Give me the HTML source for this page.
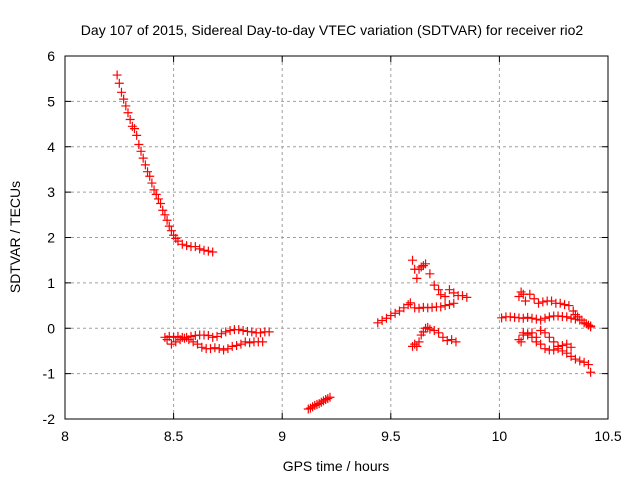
<!DOCTYPE html>
<html><head><meta charset="utf-8"><style>
body{margin:0;background:#fff}
svg text{font-family:"Liberation Sans",sans-serif;font-size:14px;fill:#000}
</style></head><body>
<svg id="c" width="640" height="480"></svg>
<script>
const xTicks=[8,8.5,9,9.5,10,10.5];
const xTickLabels=["8","8.5","9","9.5","10","10.5"];
const yTicks=[-2,-1,0,1,2,3,4,5,6];
const yTickLabels=["-2","-1","0","1","2","3","4","5","6"];
const segA_x=[8.24,8.25,8.26,8.27,8.28,8.29,8.30,8.31,8.32,8.33,8.34,8.35,8.36,8.37,8.38,8.39,8.40,8.41,8.42,8.43,8.44,8.45,8.46,8.47,8.48,8.49,8.50,8.51,8.52,8.54,8.56,8.58,8.60,8.62,8.64,8.66,8.68];
const segA_y=[5.58,5.4,5.2,5.05,4.9,4.75,4.6,4.45,4.4,4.25,4.05,3.9,3.75,3.6,3.45,3.35,3.2,3.05,2.95,2.85,2.75,2.6,2.5,2.38,2.25,2.15,2.05,1.98,1.92,1.85,1.82,1.8,1.8,1.75,1.72,1.7,1.68];
const segB_x=[8.46,8.48,8.50,8.52,8.54,8.56,8.58,8.60,8.62,8.64,8.66,8.68,8.70,8.72,8.74,8.76,8.78,8.80,8.82,8.84,8.86,8.88,8.90,8.92,8.94];
const segB_y=[-0.2,-0.18,-0.2,-0.18,-0.2,-0.2,-0.18,-0.16,-0.15,-0.15,-0.16,-0.2,-0.18,-0.12,-0.08,-0.05,-0.03,-0.03,-0.05,-0.07,-0.08,-0.1,-0.1,-0.08,-0.08];
const segC_x=[8.47,8.49,8.51,8.53,8.55,8.57,8.59,8.61,8.63,8.65,8.67,8.69,8.71,8.73,8.75,8.77,8.79,8.81,8.83,8.85,8.87,8.89,8.91];
const segC_y=[-0.25,-0.35,-0.3,-0.25,-0.22,-0.25,-0.3,-0.35,-0.42,-0.45,-0.45,-0.43,-0.45,-0.48,-0.45,-0.4,-0.38,-0.35,-0.3,-0.32,-0.3,-0.3,-0.3];
const segD_x=[9.12,9.13,9.14,9.15,9.16,9.17,9.18,9.19,9.20,9.21,9.22];
const segD_y=[-1.78,-1.76,-1.73,-1.7,-1.68,-1.66,-1.63,-1.6,-1.57,-1.55,-1.52];
const segE_x=[9.44,9.46,9.48,9.50,9.52,9.54,9.56,9.58,9.59,9.61,9.63,9.65,9.67,9.69,9.71,9.73,9.75,9.77,9.79];
const segE_y=[0.12,0.17,0.22,0.28,0.33,0.38,0.45,0.52,0.56,0.45,0.44,0.46,0.45,0.46,0.47,0.47,0.5,0.52,0.55];
const segF_x=[9.60,9.61,9.62,9.63,9.64,9.65,9.66,9.68,9.70,9.72,9.73,9.75,9.77,9.79,9.81,9.83,9.85];
const segF_y=[1.5,1.3,1.1,1.3,1.35,1.38,1.42,1.2,0.95,0.85,0.74,0.7,0.85,0.78,0.72,0.72,0.68];
const segG_x=[9.60,9.61,9.62,9.63,9.64,9.65,9.66,9.67,9.68,9.70,9.72,9.74,9.76,9.78,9.80];
const segG_y=[-0.4,-0.35,-0.4,-0.3,-0.15,-0.08,0,0.02,-0.02,-0.05,-0.1,-0.2,-0.27,-0.25,-0.3];
const segH_x=[10.01,10.03,10.05,10.07,10.09,10.11,10.13,10.15,10.17,10.19,10.21,10.23,10.25,10.27,10.29,10.31,10.33,10.35,10.37,10.39,10.41,10.42];
const segH_y=[0.23,0.25,0.25,0.24,0.23,0.22,0.24,0.22,0.2,0.18,0.22,0.25,0.27,0.27,0.26,0.25,0.22,0.2,0.18,0.12,0.07,0.03];
const segI_x=[10.09,10.10,10.11,10.12,10.14,10.16,10.18,10.20,10.22,10.24,10.26,10.28,10.30,10.32,10.34,10.35,10.36,10.38,10.40,10.42];
const segI_y=[0.7,0.8,0.75,0.6,0.75,0.65,0.55,0.58,0.6,0.6,0.55,0.55,0.52,0.5,0.38,0.3,0.25,0.18,0.1,0.05];
const segJ_x=[10.09,10.10,10.11,10.13,10.15,10.17,10.19,10.21,10.23,10.25,10.27,10.29,10.31,10.33,10.35,10.37,10.39,10.41,10.42];
const segJ_y=[-0.25,-0.3,-0.15,-0.12,-0.1,-0.2,-0.05,-0.1,-0.2,-0.3,-0.4,-0.5,-0.55,-0.62,-0.68,-0.72,-0.75,-0.8,-0.97];
const segK_x=[10.11,10.13,10.15,10.17,10.19,10.21,10.23,10.25,10.27,10.29,10.31,10.33];
const segK_y=[-0.1,-0.15,-0.2,-0.3,-0.35,-0.45,-0.48,-0.48,-0.45,-0.38,-0.35,-0.42];
const series=[[segA_x,segA_y],[segB_x,segB_y],[segC_x,segC_y],[segD_x,segD_y],[segE_x,segE_y],[segF_x,segF_y],[segG_x,segG_y],[segH_x,segH_y],[segI_x,segI_y],[segJ_x,segJ_y],[segK_x,segK_y]];

const L=65,R=608,T=56,B=419,xmin=8,xmax=10.5,ymin=-2,ymax=6;
const sx=v=>L+(v-xmin)/(xmax-xmin)*(R-L);
const sy=v=>B-(v-ymin)/(ymax-ymin)*(B-T);
const svg=document.getElementById('c');const NS='http://www.w3.org/2000/svg';
function mk(t,a,txt){const e=document.createElementNS(NS,t);for(const k in a)e.setAttribute(k,a[k]);if(txt!==undefined)e.textContent=txt;svg.appendChild(e);return e;}
xTicks.forEach((v,i)=>{const x=sx(v);
 if(i>0&&i<xTicks.length-1){const g=mk('line',{x1:x,x2:x,y1:T,y2:B,stroke:'#a0a0a0','stroke-dasharray':'3,3'});}
 mk('line',{x1:x,x2:x,y1:B,y2:B-6,stroke:'#000'});mk('line',{x1:x,x2:x,y1:T,y2:T+6,stroke:'#000'});
 const t=mk('text',{x:x,y:B+22,'text-anchor':'middle'},xTickLabels[i]);});
yTicks.forEach((v,i)=>{const y=sy(v);
 if(i>0&&i<yTicks.length-1){const g=mk('line',{x1:L,x2:R,y1:y,y2:y,stroke:'#a0a0a0','stroke-dasharray':'3,3'});}
 mk('line',{x1:L,x2:L+6,y1:y,y2:y,stroke:'#000'});mk('line',{x1:R,x2:R-6,y1:y,y2:y,stroke:'#000'});
 const t=mk('text',{x:L-10,y:y+5,'text-anchor':'end'},yTickLabels[i]);});
const f=mk('rect',{x:L,y:T,width:R-L,height:B-T,fill:'none',stroke:'#000'});

series.forEach(s=>{s[0].forEach((xv,i)=>{const x=sx(xv),y=sy(s[1][i]);
 const p=mk('path',{d:`M${x-4.5},${y}H${x+4.5}M${x},${y-4.5}V${y+4.5}`,stroke:'#ff0000','stroke-width':1.2,fill:'none'});
 });});
let t=mk('text',{x:332,y:35,'text-anchor':'middle'},'Day 107 of 2015, Sidereal Day-to-day VTEC variation (SDTVAR) for receiver rio2');

t=mk('text',{x:336,y:471,'text-anchor':'middle'},'GPS time / hours');

t=mk('text',{x:0,y:0,'text-anchor':'middle',transform:'translate(20,237) rotate(-90)'},'SDTVAR / TECUs');

</script>
</body></html>
